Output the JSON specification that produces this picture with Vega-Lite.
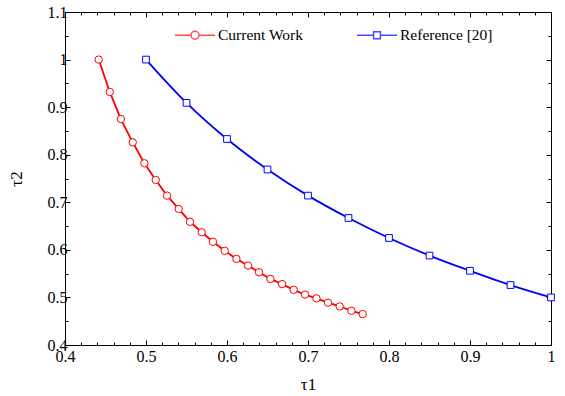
{
  "$schema": "https://vega.github.io/schema/vega-lite/v6.json",
  "width": 486,
  "height": 333,
  "autosize": {"type": "none"},
  "padding": {"left": 65, "top": 12, "right": 14, "bottom": 51},
  "background": "white",
  "config": {
    "view": {"stroke": null},
    "font": "'Liberation Serif', 'Times New Roman', serif",
    "axis": {
      "labelFont": "'Liberation Serif', 'Times New Roman', serif",
      "titleFont": "'Liberation Serif', 'Times New Roman', serif",
      "labelFontSize": 16,
      "titleFontSize": 17,
      "titleFontWeight": "normal",
      "labelColor": "black",
      "titleColor": "black",
      "domainColor": "black",
      "tickColor": "black",
      "grid": false
    },
    "legend": {
      "labelFont": "'Liberation Serif', 'Times New Roman', serif",
      "labelFontSize": 15.5,
      "labelColor": "black"
    }
  },
  "data": {
    "values": [
      {"series": "Current Work", "t1": 0.4416, "t2": 1.0},
      {"series": "Current Work", "t1": 0.4553, "t2": 0.932},
      {"series": "Current Work", "t1": 0.4689, "t2": 0.875},
      {"series": "Current Work", "t1": 0.4836, "t2": 0.826},
      {"series": "Current Work", "t1": 0.498, "t2": 0.782},
      {"series": "Current Work", "t1": 0.512, "t2": 0.747},
      {"series": "Current Work", "t1": 0.526, "t2": 0.714},
      {"series": "Current Work", "t1": 0.5404, "t2": 0.686},
      {"series": "Current Work", "t1": 0.5543, "t2": 0.659},
      {"series": "Current Work", "t1": 0.5688, "t2": 0.637},
      {"series": "Current Work", "t1": 0.5827, "t2": 0.617},
      {"series": "Current Work", "t1": 0.5972, "t2": 0.598},
      {"series": "Current Work", "t1": 0.6116, "t2": 0.581},
      {"series": "Current Work", "t1": 0.626, "t2": 0.567},
      {"series": "Current Work", "t1": 0.6395, "t2": 0.553},
      {"series": "Current Work", "t1": 0.6536, "t2": 0.539},
      {"series": "Current Work", "t1": 0.668, "t2": 0.528},
      {"series": "Current Work", "t1": 0.6823, "t2": 0.516},
      {"series": "Current Work", "t1": 0.6963, "t2": 0.506},
      {"series": "Current Work", "t1": 0.7104, "t2": 0.498},
      {"series": "Current Work", "t1": 0.7247, "t2": 0.489},
      {"series": "Current Work", "t1": 0.7391, "t2": 0.481},
      {"series": "Current Work", "t1": 0.7536, "t2": 0.472},
      {"series": "Current Work", "t1": 0.7675, "t2": 0.465},
      {"series": "Reference [20]", "t1": 0.5, "t2": 1.0},
      {"series": "Reference [20]", "t1": 0.55, "t2": 0.909},
      {"series": "Reference [20]", "t1": 0.6, "t2": 0.833},
      {"series": "Reference [20]", "t1": 0.65, "t2": 0.769},
      {"series": "Reference [20]", "t1": 0.7, "t2": 0.714},
      {"series": "Reference [20]", "t1": 0.75, "t2": 0.667},
      {"series": "Reference [20]", "t1": 0.8, "t2": 0.625},
      {"series": "Reference [20]", "t1": 0.85, "t2": 0.588},
      {"series": "Reference [20]", "t1": 0.9, "t2": 0.556},
      {"series": "Reference [20]", "t1": 0.95, "t2": 0.526},
      {"series": "Reference [20]", "t1": 1.0, "t2": 0.5}
    ]
  },
  "resolve": {"axis": {"x": "independent", "y": "independent"}},
  "layer": [
    {
      "transform": [{"filter": "datum.series == 'Current Work'"}],
      "mark": {"type": "line", "strokeWidth": 1.8, "color": "#ff0000"},
      "encoding": {
        "x": {
          "field": "t1", "type": "quantitative",
          "scale": {"domain": [0.4, 1.0], "nice": false, "zero": false},
          "axis": {
            "orient": "bottom", "title": "τ1",
            "values": [0.4, 0.5, 0.6, 0.7, 0.8, 0.9, 1.0],
            "format": ".1~f", "tickSize": -5, "labelPadding": 8,
            "titlePadding": 12, "labelFlush": false
          }
        },
        "y": {
          "field": "t2", "type": "quantitative",
          "scale": {"domain": [0.4, 1.1], "nice": false, "zero": false},
          "axis": {
            "orient": "left", "title": "τ2",
            "values": [0.4, 0.5, 0.6, 0.7, 0.8, 0.9, 1.0, 1.1],
            "format": ".1~f", "tickSize": -5, "labelPadding": 3,
            "titlePadding": 22, "labelFlush": false
          }
        }
      }
    },
    {
      "transform": [{"filter": "datum.series == 'Reference [20]'"}],
      "mark": {"type": "line", "strokeWidth": 1.8, "color": "#0000ff", "interpolate": "monotone"},
      "encoding": {
        "x": {"field": "t1", "type": "quantitative", "axis": null},
        "y": {"field": "t2", "type": "quantitative", "axis": null}
      }
    },
    {
      "transform": [{"filter": "datum.series == 'Current Work'"}],
      "mark": {"type": "point", "shape": "circle", "size": 55, "stroke": "#ff0000", "fill": "white", "strokeWidth": 1, "opacity": 1, "filled": false},
      "encoding": {
        "x": {
          "field": "t1", "type": "quantitative",
          "axis": {
            "orient": "bottom", "title": null, "labels": false, "domain": false, "tickSize": -3,
            "values": [0.4, 0.42, 0.44, 0.46, 0.48, 0.5, 0.52, 0.54, 0.56, 0.58, 0.6, 0.62, 0.64, 0.66, 0.68, 0.7, 0.72, 0.74, 0.76, 0.78, 0.8, 0.82, 0.84, 0.86, 0.88, 0.9, 0.92, 0.94, 0.96, 0.98, 1.0]
          }
        },
        "y": {
          "field": "t2", "type": "quantitative",
          "axis": {
            "orient": "left", "title": null, "labels": false, "domain": false, "tickSize": -3,
            "values": [0.4, 0.45, 0.5, 0.55, 0.6, 0.65, 0.7, 0.75, 0.8, 0.85, 0.9, 0.95, 1.0, 1.05, 1.1]
          }
        }
      }
    },
    {
      "transform": [{"filter": "datum.series == 'Reference [20]'"}],
      "mark": {"type": "point", "shape": "square", "size": 45, "stroke": "#0000ff", "fill": "white", "strokeWidth": 1, "opacity": 1, "filled": false},
      "encoding": {
        "x": {
          "field": "t1", "type": "quantitative",
          "axis": {
            "orient": "top", "title": null, "labels": false, "tickSize": -5,
            "values": [0.4, 0.5, 0.6, 0.7, 0.8, 0.9, 1.0]
          }
        },
        "y": {
          "field": "t2", "type": "quantitative",
          "axis": {
            "orient": "right", "title": null, "labels": false, "tickSize": -5,
            "values": [0.4, 0.5, 0.6, 0.7, 0.8, 0.9, 1.0, 1.1]
          }
        }
      }
    },
    {
      "mark": {"type": "point", "size": 0, "fill": "white", "strokeWidth": 1.5, "filled": false},
      "encoding": {
        "x": {
          "field": "t1", "type": "quantitative",
          "axis": {
            "orient": "top", "title": null, "labels": false, "domain": false, "tickSize": -3,
            "values": [0.4, 0.42, 0.44, 0.46, 0.48, 0.5, 0.52, 0.54, 0.56, 0.58, 0.6, 0.62, 0.64, 0.66, 0.68, 0.7, 0.72, 0.74, 0.76, 0.78, 0.8, 0.82, 0.84, 0.86, 0.88, 0.9, 0.92, 0.94, 0.96, 0.98, 1.0]
          }
        },
        "y": {
          "field": "t2", "type": "quantitative",
          "axis": {
            "orient": "right", "title": null, "labels": false, "domain": false, "tickSize": -3,
            "values": [0.4, 0.45, 0.5, 0.55, 0.6, 0.65, 0.7, 0.75, 0.8, 0.85, 0.9, 0.95, 1.0, 1.05, 1.1]
          }
        },
        "stroke": {
          "field": "series", "type": "nominal",
          "scale": {"domain": ["Current Work", "Reference [20]"], "range": ["#ff0000", "#0000ff"]},
          "legend": {
            "title": null, "orient": "none", "direction": "horizontal",
            "legendX": 109, "legendY": 2, "padding": 0,
            "symbolSize": 1600, "symbolStrokeWidth": 1.5,
            "symbolFillColor": "white",
            "labelOffset": 2, "columnPadding": 50
          }
        },
        "shape": {
          "field": "series", "type": "nominal",
          "scale": {
            "domain": ["Current Work", "Reference [20]"],
            "range": [
              "M-1,0L-0.2,0M0.2,0L1,0M-0.2,0A0.2,0.2 0 1,0 0.2,0A0.2,0.2 0 1,0 -0.2,0Z",
              "M-1,0L-0.17,0M0.17,0L1,0M-0.17,-0.17L0.17,-0.17L0.17,0.17L-0.17,0.17Z"
            ]
          },
          "legend": {
            "title": null, "orient": "none", "direction": "horizontal",
            "legendX": 109, "legendY": 2, "padding": 0,
            "symbolSize": 1600, "symbolStrokeWidth": 1.5,
            "symbolFillColor": "white",
            "labelOffset": 2, "columnPadding": 50
          }
        }
      }
    }
  ]
}
